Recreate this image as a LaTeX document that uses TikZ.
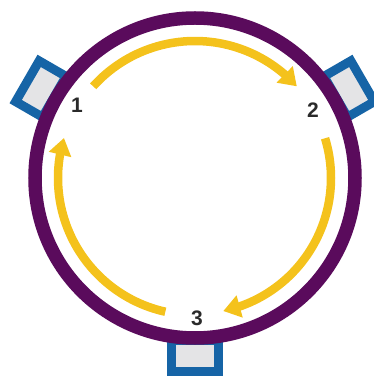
\documentclass[tikz,border=0pt]{standalone}
\usepackage{fontspec}
\setmainfont{Liberation Sans}
\usepackage{xcolor}
\usetikzlibrary{arrows.meta, bending}
\definecolor{ringpurple}{HTML}{5A0B5C}
\definecolor{flowyellow}{HTML}{F4C21C}
\definecolor{portblue}{HTML}{1664A6}
\definecolor{portgray}{HTML}{E4E4E6}
\definecolor{labelgray}{HTML}{2A2A2A}

\tikzset{
  port/.style={draw=portblue, fill=portgray, line width=9pt,
    minimum width=47pt, minimum height=31pt, inner sep=0pt},
  flow/.style={draw=flowyellow, line width=8.5pt,
    -{Triangle[length=17pt, width=22pt, flex]}},
  station/.style={text=labelgray, font=\fontsize{21}{25}\selectfont\bfseries}
}

\begin{document}
\begin{tikzpicture}[x=1pt, y=1pt]
  \useasboundingbox (-195,-199) rectangle (179,178);
  % Anschluesse aussen am Ring
  \foreach \a in {150, 30, 270} {
    \node[port, rotate=\a-90] (port\a) at (\a:178) {};
  }
  % Ring
  \draw[ringpurple, line width=13.5pt] (0,0) circle[radius=160];
  % Stationen
  \node[station] (st1) at (-118,73) {1};
  \node[station] (st2) at (118,68) {2};
  \node[station] (st3) at (2,-140) {3};
  % Pfeile zwischen den Stationen
  \coordinate (from1) at (138:137);
  \coordinate (from2) at (17:136);
  \coordinate (from3) at (-102.5:137);
  \draw[flow] (from1) arc[start angle=138, end angle=42, radius=137];
  \draw[flow] (from2) arc[start angle=17, end angle=-78, radius=136];
  \draw[flow] (from3) arc[start angle=-102.5, end angle=-197, radius=137];
\end{tikzpicture}
\end{document}
